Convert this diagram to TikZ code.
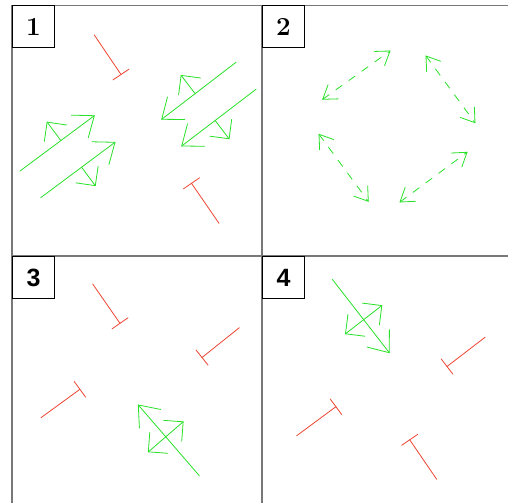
\documentclass[tikz,border=0pt]{standalone}
\usepackage{fontspec}
\newfontfamily\labsans{Liberation Sans}
\usetikzlibrary{calc}
\definecolor{vgreen}{RGB}{40,225,40}
\definecolor{tred}{RGB}{238,70,50}
\definecolor{frameg}{RGB}{120,120,120}
\tikzset{
  frameline/.style={draw=frameg,line width=1.8pt},
  labbox/.style={draw=black,line width=0.7pt},
  vecline/.style={draw=vgreen,line width=0.8pt,line cap=round},
  dvecline/.style={draw=vgreen,line width=0.8pt,dash pattern=on 8pt off 8pt},
  teeline/.style={draw=tred,line width=0.8pt,line cap=round},
}
% main vector with open head at #2
\newcommand{\mainvec}[2]{%
  \draw[vecline] (#1) -- (#2);
  \draw[vecline] ($(#2)!23pt!38:(#1)$) -- (#2) -- ($(#2)!23pt!-38:(#1)$);}
% small perpendicular vector from #1 to #2 with head at #2
\newcommand{\smallhead}[2]{%
  \draw[vecline] ($(#2)!19.5pt!45:(#1)$) -- (#2) -- ($(#2)!19.5pt!-45:(#1)$);}
% dashed double arrow
\newcommand{\dashdouble}[2]{%
  \draw[dvecline] (#1) -- (#2);
  \draw[vecline] ($(#2)!15.5pt!34:(#1)$) -- (#2) -- ($(#2)!15.5pt!-34:(#1)$);
  \draw[vecline] ($(#1)!15.5pt!34:(#2)$) -- (#1) -- ($(#1)!15.5pt!-34:(#2)$);}
% T bar: stem from #1 to #2, bar across #2
\newcommand{\teebar}[2]{%
  \draw[teeline] (#1) -- (#2);
  \draw[teeline] ($(#2)!9.7pt!90:(#1)$) -- ($(#2)!9.7pt!-90:(#1)$);}
\begin{document}
\begin{tikzpicture}[x=1pt,y=-1pt]
\useasboundingbox (0,0) rectangle (508,503);
\fill[white] (0,0) rectangle (508,503);
% frame
\draw[frameline] (12,503) -- (12,5.5) -- (508,5.5);
\draw[frameline] (262,5.5) -- (262,503);
\draw[frameline] (12,256) -- (508,256);
% label boxes
\draw[labbox] (12,5.5) rectangle (54,47);
\draw[labbox] (262,5.5) rectangle (304,47);
\draw[labbox] (12,256) rectangle (54,298);
\draw[labbox] (262,256) rectangle (304,298);
\node[font=\fontsize{26}{26}\selectfont\bfseries] (l1) at (33.5,27) {1};
\node[font=\fontsize{26}{26}\selectfont\bfseries] (l2) at (283.5,27) {2};
\node[font=\fontsize{25}{25}\selectfont\labsans\bfseries] (l3) at (33.5,277.5) {3};
\node[font=\fontsize{25}{25}\selectfont\labsans\bfseries] (l4) at (283.5,277.5) {4};

% ---------- panel 1 ----------
\teebar{94.3,35}{121,74.5}
\teebar{219,223.3}{191.5,183.3}
% arrow A
\coordinate (As) at (20,171);
\coordinate (At) at (94.3,115.7);
\mainvec{As}{At}
\coordinate (Ab) at ($(As)!0.55!(At)$);
\coordinate (Ae) at ($(Ab)!23pt!90:(At)$);
\draw[vecline] (Ab) -- (Ae);
\smallhead{Ab}{Ae}
% arrow B
\coordinate (Bs) at (40.7,197.7);
\coordinate (Bt) at (115,142.3);
\mainvec{Bs}{Bt}
\coordinate (Bb) at ($(Bs)!0.55!(Bt)$);
\coordinate (Be) at ($(Bb)!23pt!-90:(Bt)$);
\draw[vecline] (Bb) -- (Be);
\smallhead{Bb}{Be}
% arrow C
\coordinate (Cs) at (236,62.3);
\coordinate (Ct) at (161.7,119.3);
\mainvec{Cs}{Ct}
\coordinate (Cb) at ($(Cs)!0.55!(Ct)$);
\coordinate (Ce) at ($(Cb)!23pt!-90:(Ct)$);
\draw[vecline] (Cb) -- (Ce);
\smallhead{Cb}{Ce}
% arrow D
\coordinate (Ds) at (256,89.3);
\coordinate (Dt) at (181.7,146);
\mainvec{Ds}{Dt}
\coordinate (Db) at ($(Ds)!0.55!(Dt)$);
\coordinate (De) at ($(Db)!23pt!90:(Dt)$);
\draw[vecline] (Db) -- (De);
\smallhead{Db}{De}

% ---------- panel 2 ----------
\coordinate (P1a) at (322.7,99.3);
\coordinate (P1b) at (390,51);
\coordinate (P2a) at (426,56);
\coordinate (P2b) at (475,122.7);
\coordinate (P3a) at (319,134.3);
\coordinate (P3b) at (368.3,201.3);
\coordinate (P4a) at (400,202);
\coordinate (P4b) at (467,152.3);
\dashdouble{P1a}{P1b}
\dashdouble{P2a}{P2b}
\dashdouble{P3a}{P3b}
\dashdouble{P4a}{P4b}

% ---------- panel 3 ----------
\teebar{92.7,284}{120,323.3}
\teebar{239.3,327.7}{202,357.5}
\teebar{41,417.7}{79.9,389.3}
\coordinate (Es) at (199.3,475.7);
\coordinate (Et) at (138.3,405);
\mainvec{Es}{Et}
\coordinate (Eb) at ($(Es)!0.55!(Et)$);
\coordinate (Ep) at ($(Eb)!23pt!90:(Et)$);
\coordinate (Eq) at ($(Eb)!23pt!-90:(Et)$);
\draw[vecline] (Ep) -- (Eq);
\smallhead{Eb}{Ep}
\smallhead{Eb}{Eq}

% ---------- panel 4 ----------
\teebar{485,337.3}{447,366.5}
\teebar{296.7,435.7}{335.9,406.7}
\teebar{436.7,479.3}{409.7,439.8}
\coordinate (Fs) at (332.3,279.3);
\coordinate (Ft) at (389.3,352.7);
\mainvec{Fs}{Ft}
\coordinate (Fb) at ($(Fs)!0.55!(Ft)$);
\coordinate (Fp) at ($(Fb)!23pt!90:(Ft)$);
\coordinate (Fq) at ($(Fb)!23pt!-90:(Ft)$);
\draw[vecline] (Fp) -- (Fq);
\smallhead{Fb}{Fp}
\smallhead{Fb}{Fq}
\end{tikzpicture}
\end{document}
